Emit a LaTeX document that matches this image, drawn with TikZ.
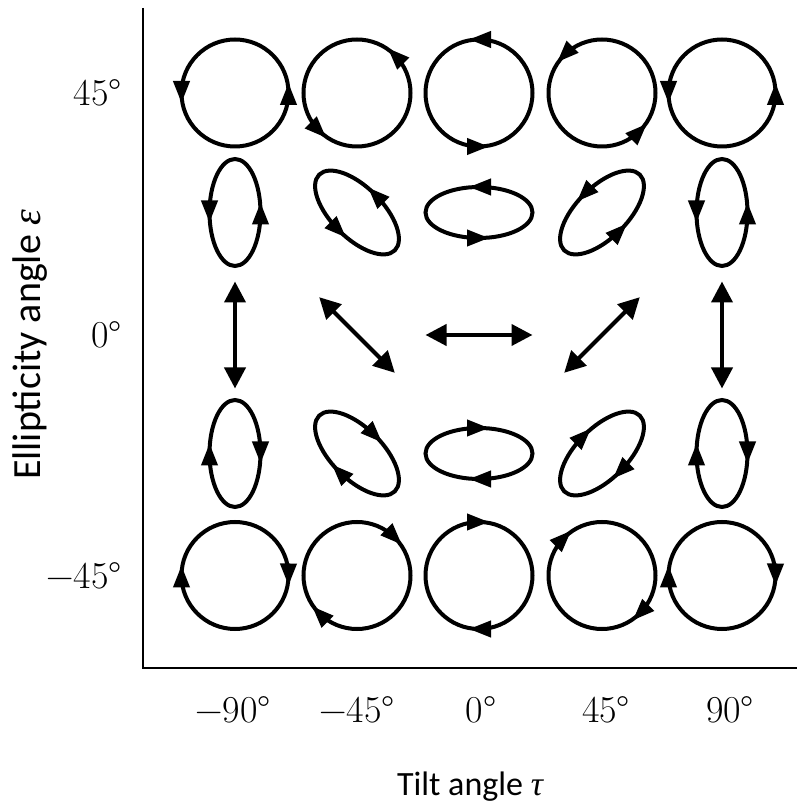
\documentclass[tikz,border=0pt]{standalone}
\usepackage{fontspec}
\usetikzlibrary{arrows.meta,decorations.markings}
\newfontfamily\calib{Carlito}
\newfontfamily\grk{Liberation Serif}
\begin{document}
\begin{tikzpicture}[x=1pt,y=1pt,
  pol/.style={line width=4pt, postaction={decorate}, decoration={markings,
     mark=at position 0.25 with {\arrow[xshift=10pt]{Triangle[length=22pt,width=16pt]}},
     mark=at position 0.75 with {\arrow[xshift=10pt]{Triangle[length=22pt,width=16pt]}}}},
  dbl/.style={line width=4pt, {Triangle[length=21pt,width=21pt]}-{Triangle[length=21pt,width=21pt]}},
  axis/.style={line width=2pt},
  num/.style={inner sep=0pt, font=\fontsize{38}{44}\selectfont},
  lab/.style={inner sep=0pt, font=\calib\fontsize{34}{40}\selectfont},
  vlab/.style={inner sep=0pt, font=\calib\fontsize{40}{46}\selectfont}]
\useasboundingbox (0,0) rectangle (797,807);
% axes
\coordinate (top) at (143,799);
\coordinate (orig) at (143,139);
\coordinate (right) at (797,139);
\draw[axis] (top) -- (orig) -- (right);
% polarisation states
\foreach \X/\t in {235/-90, 357/-45, 479/0, 602/45, 722/90} {
  \foreach \Y/\b/\s in {714/53.5/1, 594.5/25.5/1, 353.5/25.5/-1, 231.5/53.5/-1} {
    \draw[pol, shift={(\X,\Y)}, rotate=\t, yscale=\s] (0,0) ellipse [x radius=53.5pt, y radius=\b pt];
  }
  \begin{scope}[shift={(\X,472)}, rotate=\t]
    \coordinate (a) at (-53.5,0);
    \coordinate (b) at (53.5,0);
    \draw[dbl] (a) -- (b);
  \end{scope}
}
% vertical tick labels
\node[num, anchor=base east] (e45) at (122,701) {45°};
\node[num, anchor=base east] (e0) at (122,459) {0°};
\node[num, anchor=base east] (em45) at (122,218) {−45°};
% horizontal tick labels
\node[num, anchor=base] (tm90) at (233,84) {−90°};
\node[num, anchor=base] (tm45) at (357,84) {−45°};
\node[num, anchor=base] (t0) at (481,84) {0°};
\node[num, anchor=base] (t45) at (606,84) {45°};
\node[num, anchor=base] (t90) at (730,84) {90°};
% axis titles
\node[lab, anchor=base] (xt) at (470,12) {Tilt angle {\grk\itshape τ}};
\node[vlab, rotate=90, anchor=base] (yt) at (40,462) {Ellipticity angle {\grk\itshape ε}};
\end{tikzpicture}
\end{document}
